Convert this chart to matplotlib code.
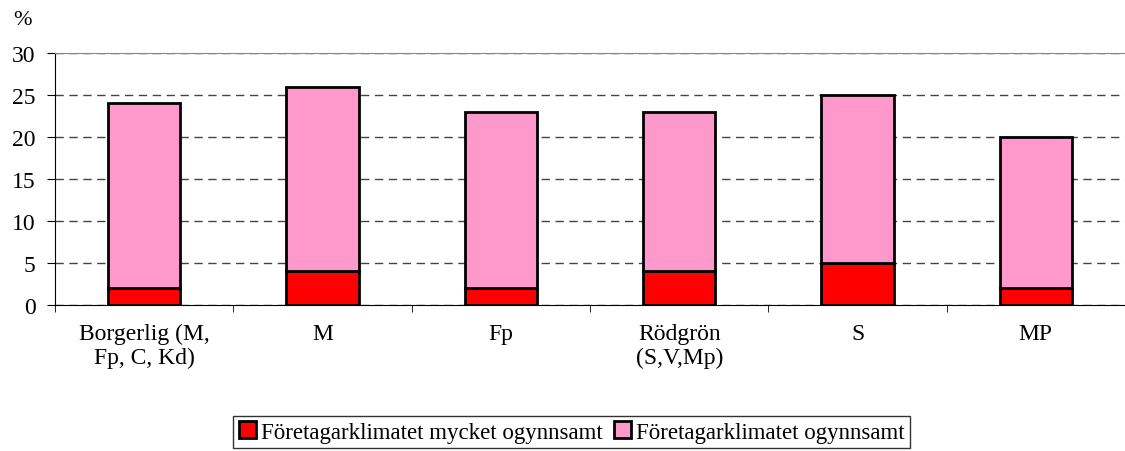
import matplotlib.pyplot as plt
import numpy as np

categories = ['Borgerlig (M,\nFp, C, Kd)', 'M', 'Fp', 'Rödgrön\n(S,V,Mp)', 'S', 'MP']
mycket_ogynnsamt = [2, 4, 2, 4, 5, 2]
ogynnsamt = [22, 22, 21, 19, 20, 18]

plt.rcParams['font.family'] = ['Liberation Serif', 'DejaVu Serif']
plt.rcParams['font.size'] = 17

fig = plt.figure(figsize=(11.25, 4.52), dpi=100)
ax = fig.add_axes([0.049, 0.323, 0.951, 0.5575])

x = np.arange(len(categories))
w = 0.405
ax.bar(x, mycket_ogynnsamt, w, color='#ff0000', edgecolor='black', linewidth=2,
       label='Företagarklimatet mycket ogynnsamt', zorder=3)
ax.bar(x, ogynnsamt, w, bottom=mycket_ogynnsamt, color='#ff99cc', edgecolor='black',
       linewidth=2, label='Företagarklimatet ogynnsamt', zorder=3)

ax.set_xlim(-0.5, len(categories) - 0.5)
ax.set_ylim(0, 30)
ax.set_yticks(range(0, 31, 5))
ax.yaxis.grid(True, linestyle=(0, (6, 4)), color='#444444', linewidth=1, zorder=0)

ax.set_xticks(x)
ax.set_xticklabels(categories, va='top', linespacing=1.15)
ax.set_xticks(np.arange(-0.5, len(categories)), minor=True)
ax.tick_params(axis='x', which='major', length=0, pad=13)
ax.tick_params(axis='x', which='minor', length=5, color='black')
ax.tick_params(axis='y', length=6, pad=8)

ax.spines['top'].set_color('#888888')
ax.spines['right'].set_visible(False)
ax.spines['left'].set_color('black')
ax.spines['bottom'].set_color('black')

fig.text(0.012, 0.955, '%', fontsize=16, ha='left', va='center')

leg = fig.legend(loc='center', bbox_to_anchor=(0.508, 0.042), ncol=2, frameon=True,
                 fancybox=False, edgecolor='black', handlelength=0.75, handleheight=0.75,
                 handletextpad=0.2, columnspacing=0.5, borderpad=0.25, fontsize=16.5)
leg.get_frame().set_linewidth(1)

plt.savefig('out.png', dpi=100)
